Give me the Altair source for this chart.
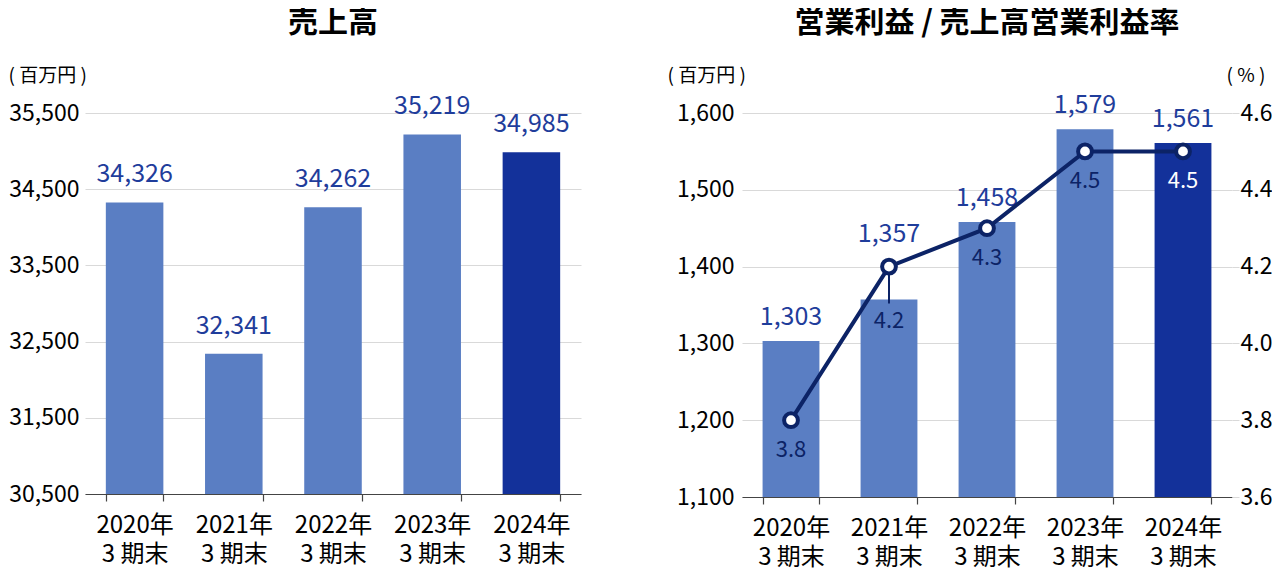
import altair as alt
import pandas as pd

# ---- data ----
years = ["2020", "2021", "2022", "2023", "2024"]
sales = [34326, 32341, 34262, 35219, 34985]
op_income = [1303, 1357, 1458, 1579, 1561]
op_margin = [3.8, 4.2, 4.3, 4.5, 4.5]
latest = [False, False, False, False, True]

sales_ticks = [30500, 31500, 32500, 33500, 34500, 35500]
income_ticks = [1100, 1200, 1300, 1400, 1500, 1600]
margin_ticks = [3.6, 3.8, 4.0, 4.2, 4.4, 4.6]

df = pd.DataFrame({
    "year": years,
    "sales": sales,
    "income": op_income,
    "margin": op_margin,
    "latest": latest,
})

FONT = "Noto Sans CJK JP"
LIGHT = "#5a7ec3"
DARK = "#13319a"
LABEL = "#1f3d9b"
LINE = "#0c2366"
GRID = "#d9d9d9"

W1 = 496
W2 = 490
H1 = 381
H2 = 384

x_enc = alt.X("year:N", sort=years,
              scale=alt.Scale(paddingInner=0.42, paddingOuter=0.21),
              axis=alt.Axis(title=None,
                            labelExpr="datum.label ? [datum.label + '年', '3 期末'] : ''",
                            labelAngle=0, labelFontSize=24, labelColor="black",
                            labelPadding=12, labelLineHeight=29,
                            ticks=True, tickBand="extent", tickSize=7,
                            tickColor="#444", tickWidth=1.2,
                            domainColor="#444", domainWidth=1.2))

bar_color = alt.condition("datum.latest", alt.value(DARK), alt.value(LIGHT))


def unit_axis(values, fmt, title, tx, orient="left", ticks=False, grid=True, pad=6):
    return alt.Axis(values=values, format=fmt, title=title, orient=orient,
                    titleAngle=0, titleAlign="left", titleBaseline="middle",
                    titleX=tx, titleY=-38, titleFontSize=19,
                    titleFontWeight="normal", titleColor="black",
                    labelFontSize=23, labelColor="black", labelPadding=pad,
                    domain=False, ticks=ticks, tickColor=GRID, tickSize=7,
                    grid=grid, gridColor=GRID)


title_font = dict(fontSize=30, fontWeight="bold", anchor="middle", offset=28,
                  color="black")

# ---- left chart: sales ----
sales_y = alt.Y("sales:Q",
                scale=alt.Scale(domain=[30500, 35500], zero=False, nice=False),
                axis=unit_axis(sales_ticks, ",.0f", "( 百万円 )", -77))

left_base = alt.Chart(df)
left_bars = left_base.mark_bar(clip=True).encode(x=x_enc, y=sales_y, color=bar_color)
left_text = left_base.mark_text(fontSize=25, color=LABEL, dy=-28, baseline="middle").encode(
    x=x_enc, y=sales_y, text=alt.Text("sales:Q", format=","))
left = alt.layer(left_bars, left_text).properties(
    width=W1, height=H1, title=alt.TitleParams("売上高", **title_font))

# ---- right chart: operating income / margin ----
inc_y = alt.Y("income:Q",
              scale=alt.Scale(domain=[1100, 1600], zero=False, nice=False),
              axis=unit_axis(income_ticks, ",.0f", "( 百万円 )", -75, pad=8))
mar_y = alt.Y("margin:Q",
              scale=alt.Scale(domain=[3.6, 4.6], zero=False, nice=False),
              axis=unit_axis(margin_ticks, ".1f", "( % )", -6, orient="right",
                             ticks=True, grid=False, pad=1))

# whether the rate point sits above the bar top (label goes above the point then)
above_expr = "(datum.margin - 3.6) / 1.0 > (datum.income - 1100) / 500"

rb = alt.Chart(df)
r_bars = rb.mark_bar(clip=True).encode(x=x_enc, y=inc_y, color=bar_color)
r_bar_text = rb.transform_filter("!(" + above_expr + ")").mark_text(
    fontSize=25, color=LABEL, dy=-24, baseline="middle").encode(
    x=x_enc, y=inc_y, text=alt.Text("income:Q", format=","))
bar_layer = alt.layer(r_bars, r_bar_text)

lb = alt.Chart(df)
r_leader = lb.transform_filter("datum.year == '2021'").mark_rule(
    color=LINE, strokeWidth=2, y2Offset=37).encode(
    x=x_enc, y=mar_y, y2=alt.Y2("margin:Q"))
r_line = lb.mark_line(color=LINE, strokeWidth=4).encode(x=x_enc, y=mar_y)
r_points = lb.mark_point(filled=True, fill="white", stroke=LINE, strokeWidth=4,
                         size=190, opacity=1).encode(x=x_enc, y=mar_y)
label_color = alt.condition("datum.latest", alt.value("white"), alt.value(LINE))
r_mlabels = lb.transform_filter("datum.year != '2021'").mark_text(
    fontSize=22, dy=30, baseline="middle").encode(
    x=x_enc, y=mar_y,
    text=alt.Text("margin:Q", format=".1f"), color=label_color)
r_mlabel21 = lb.transform_filter("datum.year == '2021'").mark_text(
    fontSize=22, dy=54, baseline="middle").encode(
    x=x_enc, y=mar_y,
    text=alt.Text("margin:Q", format=".1f"), color=label_color)
r_inc_above = lb.transform_filter(above_expr).mark_text(
    fontSize=25, color=LABEL, dy=-33, baseline="middle").encode(
    x=x_enc, y=mar_y, text=alt.Text("income:Q", format=","))
line_layer = alt.layer(r_leader, r_line, r_points, r_mlabels, r_mlabel21, r_inc_above)

right = alt.layer(bar_layer, line_layer).resolve_scale(y="independent").properties(
    width=W2, height=H2,
    title=alt.TitleParams("営業利益 / 売上高営業利益率", **title_font))

chart = alt.hconcat(left, right, spacing=86).properties(padding=0).configure(
    font=FONT).configure_view(stroke=None).configure_axis(
    labelFont=FONT, titleFont=FONT).configure_title(font=FONT).configure_text(font=FONT)

chart.save("out.html", embed_options={"renderer": "svg", "actions": False})
